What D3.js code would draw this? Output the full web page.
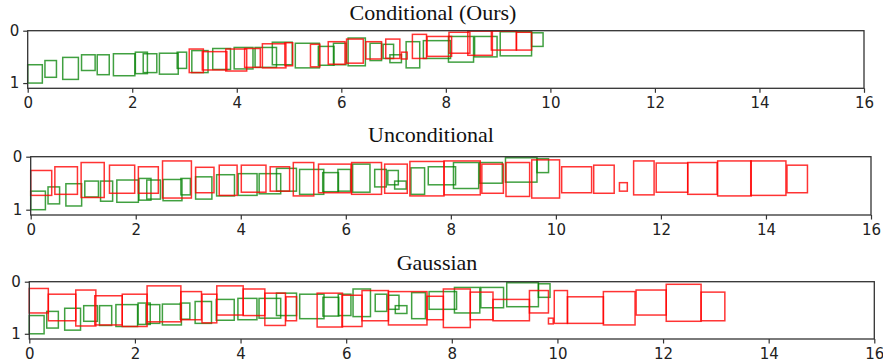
<!DOCTYPE html>
<html>
<head>
<meta charset="utf-8">
<script src="https://cdn.jsdelivr.net/npm/d3@7"></script>
<style>
  body { margin: 0; background: white; }
  .tick text { font-family: 'DejaVu Sans', sans-serif; font-size: 15px; fill: #222; }
  .ptitle { font-family: 'Liberation Serif', 'Times New Roman', serif; font-size: 22px; fill: #111; }
</style>
</head>
<body>
<div id="chart"></div>
<script>
// tick values and titles
const xTicks = [0, 2, 4, 6, 8, 10, 12, 14, 16];
const yTicks = [0, 1];
const panelTitles = ['Conditional (Ours)', 'Unconditional', 'Gaussian'];

// boxes are [x, y, width, height], y grows downward (inverted axis)
// ground truth boxes (green), same in every panel
const truthBoxes = [
  [0.00, 0.65, 0.28, 0.35], [0.33, 0.57, 0.22, 0.32], [0.67, 0.51, 0.30, 0.42],
  [1.03, 0.46, 0.26, 0.30], [1.33, 0.46, 0.23, 0.38], [1.64, 0.44, 0.41, 0.42],
  [2.06, 0.41, 0.23, 0.41], [2.21, 0.44, 0.26, 0.36], [2.52, 0.43, 0.36, 0.40],
  [2.86, 0.41, 0.18, 0.31], [3.14, 0.38, 0.31, 0.42], [3.54, 0.34, 0.34, 0.40],
  [3.95, 0.32, 0.36, 0.41], [4.35, 0.32, 0.41, 0.38], [4.68, 0.22, 0.38, 0.43],
  [5.12, 0.24, 0.46, 0.47], [5.56, 0.30, 0.30, 0.36], [5.85, 0.24, 0.24, 0.41],
  [6.13, 0.14, 0.33, 0.53], [6.55, 0.24, 0.22, 0.33], [6.80, 0.26, 0.20, 0.27],
  [6.93, 0.46, 0.22, 0.15], [7.24, 0.21, 0.26, 0.50], [7.57, 0.19, 0.52, 0.34],
  [8.05, 0.11, 0.48, 0.49], [8.55, 0.11, 0.43, 0.39], [9.04, 0.02, 0.60, 0.46],
  [9.64, 0.04, 0.22, 0.26]
];

// predicted boxes (red)
const conditionalBoxes = [
  [3.09, 0.35, 0.27, 0.45], [3.34, 0.40, 0.47, 0.35], [3.79, 0.35, 0.40, 0.42],
  [4.15, 0.34, 0.30, 0.36], [4.49, 0.25, 0.45, 0.46], [4.92, 0.23, 0.15, 0.44],
  [5.41, 0.26, 0.18, 0.43], [5.75, 0.21, 0.32, 0.43], [6.10, 0.16, 0.32, 0.46],
  [6.47, 0.21, 0.30, 0.33], [6.85, 0.16, 0.27, 0.37], [7.15, 0.41, 0.11, 0.13],
  [7.36, 0.07, 0.27, 0.46], [7.64, 0.11, 0.47, 0.38], [8.06, 0.03, 0.40, 0.40],
  [8.42, 0.01, 0.47, 0.46], [8.87, 0.01, 0.48, 0.36], [9.35, 0.03, 0.29, 0.34]
];

const unconditionalBoxes = [
  [0.00, 0.26, 0.40, 0.47], [0.46, 0.19, 0.43, 0.52], [0.96, 0.11, 0.44, 0.66],
  [1.50, 0.16, 0.48, 0.53], [2.05, 0.19, 0.38, 0.50], [2.51, 0.08, 0.55, 0.70],
  [3.14, 0.20, 0.35, 0.48], [3.59, 0.16, 0.34, 0.57], [4.01, 0.16, 0.47, 0.51],
  [4.56, 0.19, 0.37, 0.46], [5.00, 0.11, 0.39, 0.63], [5.48, 0.14, 0.62, 0.54],
  [6.11, 0.11, 0.57, 0.60], [6.74, 0.14, 0.43, 0.55], [7.22, 0.09, 0.65, 0.65],
  [7.87, 0.08, 0.69, 0.64], [8.59, 0.14, 0.41, 0.55], [9.05, 0.11, 0.45, 0.64],
  [9.54, 0.06, 0.53, 0.72], [10.11, 0.19, 0.57, 0.49], [10.72, 0.16, 0.39, 0.53],
  [11.21, 0.49, 0.15, 0.16], [11.48, 0.08, 0.39, 0.64], [11.91, 0.12, 0.60, 0.55],
  [12.51, 0.11, 0.56, 0.60], [13.08, 0.08, 0.64, 0.66], [13.71, 0.08, 0.67, 0.65],
  [14.40, 0.16, 0.39, 0.52]
];

const gaussianBoxes = [
  [0.00, 0.13, 0.36, 0.47], [0.36, 0.24, 0.52, 0.51], [0.88, 0.16, 0.38, 0.69],
  [1.24, 0.27, 0.52, 0.56], [1.76, 0.24, 0.47, 0.62], [2.23, 0.08, 0.64, 0.69],
  [2.87, 0.19, 0.39, 0.54], [3.27, 0.24, 0.28, 0.55], [3.55, 0.08, 0.50, 0.56],
  [4.05, 0.14, 0.41, 0.51], [4.46, 0.22, 0.39, 0.62], [4.86, 0.29, 0.20, 0.46],
  [5.45, 0.22, 0.48, 0.65], [5.92, 0.26, 0.38, 0.60], [6.30, 0.17, 0.50, 0.58],
  [6.80, 0.19, 0.73, 0.64], [7.53, 0.28, 0.31, 0.45], [7.84, 0.14, 0.51, 0.74],
  [8.35, 0.20, 0.43, 0.53], [8.78, 0.34, 0.69, 0.41], [9.47, 0.17, 0.36, 0.43],
  [9.83, 0.70, 0.09, 0.11], [9.94, 0.17, 0.25, 0.63], [10.19, 0.29, 0.68, 0.51],
  [10.87, 0.19, 0.60, 0.64], [11.49, 0.16, 0.57, 0.48], [12.06, 0.05, 0.66, 0.71],
  [12.72, 0.20, 0.45, 0.55]
];

const predictedSets = [conditionalBoxes, unconditionalBoxes, gaussianBoxes];

// panel frames in pixels
const frames = [
  {left: 27.7, right: 864, top: 30.7, bottom: 88.3, titleX: 433, titleY: 20},
  {left: 30.7, right: 871, top: 156.7, bottom: 215, titleX: 431, titleY: 142},
  {left: 29.3, right: 874.3, top: 281.7, bottom: 339, titleX: 437, titleY: 270}
];

const svg = d3.select('#chart')
    .append('svg')
    .attr('width', 883)
    .attr('height', 364)
    .style('background', 'white');

frames.forEach((f, i) => {
  const xScale = d3.scaleLinear().domain([0, 16]).range([f.left, f.right]);
  const yScale = d3.scaleLinear().domain([0, 1.1]).range([f.top, f.bottom]);

  const g = svg.append('g');

  // ground truth first, predictions on top
  g.selectAll('.truth')
      .data(truthBoxes)
      .enter()
      .append('rect')
      .attr('x', d => xScale(d[0]))
      .attr('y', d => yScale(d[1]))
      .attr('width', d => xScale(d[0] + d[2]) - xScale(d[0]))
      .attr('height', d => yScale(d[1] + d[3]) - yScale(d[1]))
      .attr('fill', 'none')
      .attr('stroke', 'green')
      .attr('stroke-opacity', 0.75)
      .attr('stroke-width', 1.5);

  g.selectAll('.pred')
      .data(predictedSets[i])
      .enter()
      .append('rect')
      .attr('x', d => xScale(d[0]))
      .attr('y', d => yScale(d[1]))
      .attr('width', d => xScale(d[0] + d[2]) - xScale(d[0]))
      .attr('height', d => yScale(d[1] + d[3]) - yScale(d[1]))
      .attr('fill', 'none')
      .attr('stroke', '#ff0000')
      .attr('stroke-opacity', 0.8)
      .attr('stroke-width', 1.5);

  // frame
  g.append('rect')
      .attr('x', f.left)
      .attr('y', f.top)
      .attr('width', f.right - f.left)
      .attr('height', f.bottom - f.top)
      .attr('fill', 'none')
      .attr('stroke', '#333')
      .attr('stroke-width', 1.3);

  const xAxis = g.append('g')
      .attr('transform', 'translate(0,' + f.bottom + ')')
      .call(d3.axisBottom(xScale).tickValues(xTicks).tickSize(4.5).tickSizeOuter(0).tickPadding(5)
          .tickFormat(d3.format('d')));
  xAxis.select('.domain').remove();

  const yAxis = g.append('g')
      .attr('transform', 'translate(' + f.left + ',0)')
      .call(d3.axisLeft(yScale).tickValues(yTicks).tickSize(4.5).tickSizeOuter(0).tickPadding(4)
          .tickFormat(d3.format('d')));
  yAxis.select('.domain').remove();

  g.selectAll('.tick line').attr('stroke', '#333').attr('stroke-width', 1.2);

  g.append('text')
      .attr('class', 'ptitle')
      .attr('x', f.titleX)
      .attr('y', f.titleY)
      .attr('text-anchor', 'middle')
      .text(panelTitles[i]);
});
</script>
</body>
</html>
